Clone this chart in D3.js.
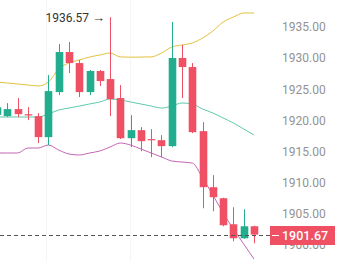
<!DOCTYPE html>
<html>
<head>
<meta charset="utf-8">
<script src="https://cdn.jsdelivr.net/npm/d3@7"></script>
<style>
  body { margin: 0; background: #fff; }
  svg { display: block; font-family: Roboto, "Noto Sans", sans-serif; }
</style>
</head>
<body>
<div id="chart"></div>
<script>
// candle data (open, high, low, close), oldest first
var opens  = [1920.9, 1920.69, 1921.82, 1921.0, 1920.69, 1917.32, 1924.55, 1930.98, 1929.21, 1924.55, 1927.93, 1926.64, 1923.59,
              1917.15, 1918.44, 1917.0, 1916.83, 1915.87, 1930.02, 1928.57, 1918.28, 1909.28, 1907.51, 1903.33, 1901.08, 1903.01];
var highs  = [1922.5, 1922.78, 1923.59, 1922.14, 1921.17, 1927.28, 1932.27, 1932.59, 1929.69, 1928.1, 1928.1, 1936.57, 1925.68,
              1920.85, 1918.92, 1918.6, 1917.64, 1935.8, 1932.11, 1929.21, 1919.73, 1911.21, 1907.6, 1906.06, 1905.74, 1903.1];
var lows   = [1920.5, 1920.53, 1920.53, 1920.05, 1916.35, 1916.03, 1924.07, 1927.6, 1923.75, 1924.07, 1925.51, 1920.69, 1917.0,
              1915.71, 1915.06, 1914.1, 1914.1, 1915.7, 1923.59, 1917.96, 1905.9, 1905.42, 1903.0, 1900.59, 1901.0, 1900.27];
var closes = [1922.1, 1921.82, 1921.01, 1920.8, 1917.32, 1924.71, 1930.98, 1929.21, 1924.55, 1927.93, 1926.32, 1923.42, 1917.15,
              1918.44, 1916.67, 1916.85, 1915.87, 1930.02, 1928.57, 1918.12, 1909.28, 1907.67, 1903.17, 1901.08, 1903.01, 1901.67];

// band lines
var upperBand = [1926.17, 1926.01, 1925.85, 1925.69, 1925.53, 1926.17, 1928.26, 1929.22, 1929.7, 1930.18, 1930.5, 1930.82, 1930.2,
                 1930.15, 1930.18, 1930.2, 1930.82, 1931.79, 1932.11, 1932.43, 1933.23, 1934.36, 1935.8, 1936.6, 1937.25, 1937.25];
var middleBand = [1920.55, 1920.55, 1920.55, 1920.55, 1920.55, 1921.03, 1921.67, 1921.99, 1922.31, 1922.64, 1922.96, 1923.44, 1923.28,
                  1922.96, 1922.64, 1922.31, 1921.99, 1922.31, 1922.8, 1922.64, 1921.83, 1921.19, 1920.39, 1919.59, 1918.62, 1917.66];
var lowerBand = [1914.77, 1914.77, 1914.77, 1915.57, 1915.57, 1916.05, 1915.25, 1914.61, 1914.45, 1914.77, 1915.09, 1915.73, 1916.37,
                 1916.05, 1915.41, 1914.77, 1914.13, 1913.49, 1913.32, 1913.16, 1910.76, 1908.03, 1905.14, 1902.57, 1900.16, 1897.75];

var priceTicks = [1900, 1905, 1910, 1915, 1920, 1925, 1930, 1935, 1940];
var lastPrice = 1901.67;
var highLabel = "1936.57";
var highIndex = 11;
var gridIdx = [4.8, 13];

var svgWidth = 340;
var svgHeight = 261;

var svg = d3.select("#chart")
  .append("svg")
  .attr("width", svgWidth)
  .attr("height", svgHeight);

// scales
var xScale = d3.scaleLinear()
  .domain([0, opens.length - 1])
  .range([-3, 254]);

var yScale = d3.scaleLinear()
  .domain([1900, 1935])
  .range([245, 27]);

var candleW = 7.6;
var green = "#22ae8e";
var red = "#ef5063";

// faint vertical grid
svg.selectAll(".grid")
  .data(gridIdx)
  .enter()
  .append("line")
  .attr("x1", d => xScale(d))
  .attr("x2", d => xScale(d))
  .attr("y1", 0)
  .attr("y2", svgHeight)
  .attr("stroke", "#f4f4f4")
  .attr("stroke-width", 1);

// price axis on the right
var rightAxis = d3.axisRight(yScale)
  .tickValues(priceTicks)
  .tickSize(0)
  .tickPadding(3)
  .tickFormat(d3.format(".2f"));

var axisG = svg.append("g")
  .attr("transform", "translate(279,0)")
  .call(rightAxis);
axisG.select(".domain").remove();
axisG.selectAll("text")
  .attr("fill", "#939393")
  .style("font-size", "12px")
  .style("font-family", "Roboto, sans-serif");

// band lines
function bandLine(values, color) {
  var line = d3.line()
    .x((d, i) => xScale(i))
    .y(d => yScale(d))
    .curve(d3.curveMonotoneX);
  svg.append("path")
    .datum(values)
    .attr("d", line)
    .attr("fill", "none")
    .attr("stroke", color)
    .attr("stroke-width", 1);
}
bandLine(upperBand, "#e2c23c");
bandLine(middleBand, "#5ec9ad");
bandLine(lowerBand, "#c366b4");

// candles
var idx = d3.range(opens.length);
var candles = svg.selectAll(".candle")
  .data(idx)
  .enter()
  .append("g")
  .attr("class", "candle");

candles.append("line")
  .attr("x1", i => Math.round(xScale(i)) + 0.5)
  .attr("x2", i => Math.round(xScale(i)) + 0.5)
  .attr("y1", i => yScale(highs[i]))
  .attr("y2", i => yScale(lows[i]))
  .attr("stroke", i => closes[i] >= opens[i] ? green : red)
  .attr("stroke-width", 1);

candles.append("rect")
  .attr("x", i => Math.round(xScale(i)) + 0.5 - candleW / 2)
  .attr("width", candleW)
  .attr("y", i => yScale(Math.max(opens[i], closes[i])))
  .attr("height", i => Math.max(1.2, Math.abs(yScale(opens[i]) - yScale(closes[i]))))
  .attr("fill", i => closes[i] >= opens[i] ? green : red);

// high annotation: value text plus arrow pointing at the wick
var annX = xScale(highIndex) - 5;
var annY = yScale(highs[highIndex]) + 1;
var note = svg.append("text")
  .attr("x", annX)
  .attr("y", annY + 4)
  .attr("text-anchor", "end")
  .attr("fill", "#333")
  .style("font-size", "12px");
note.append("tspan").text(highLabel + " ");
note.append("tspan").style("font-size", "13px").style("font-weight", "bold").text("\u2192");

// last price dashed line and label
var yLast = Math.round(yScale(lastPrice)) + 0.5;
svg.append("line")
  .attr("x1", 0)
  .attr("x2", 270)
  .attr("y1", yLast)
  .attr("y2", yLast)
  .attr("stroke", "#555")
  .attr("stroke-width", 1)
  .attr("stroke-dasharray", "4,3");

svg.append("rect")
  .attr("x", 270)
  .attr("y", yLast - 9.5)
  .attr("width", 65)
  .attr("height", 19)
  .attr("fill", red);

svg.append("line")
  .attr("x1", 272)
  .attr("x2", 279)
  .attr("y1", yLast)
  .attr("y2", yLast)
  .attr("stroke", "#fff")
  .attr("stroke-width", 1);

svg.append("text")
  .attr("x", 282)
  .attr("y", yLast + 4.5)
  .attr("fill", "#fff")
  .style("font-size", "12.5px")
  .style("font-weight", "500")
  .text(d3.format(".2f")(lastPrice));
</script>
</body>
</html>
